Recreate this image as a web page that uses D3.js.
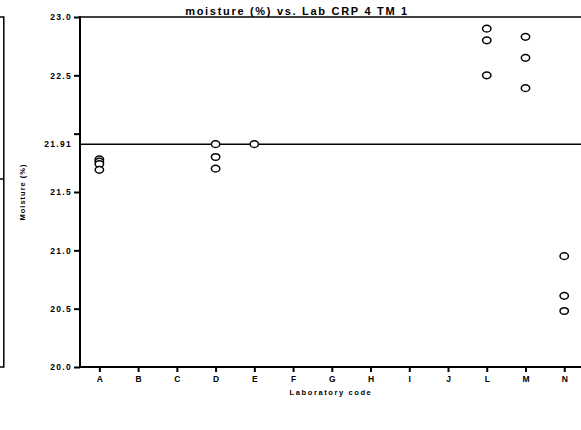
<!DOCTYPE html>
<html>
<head>
<meta charset="utf-8">
<script src="https://cdn.jsdelivr.net/npm/d3@7"></script>
<style>
  html, body { margin: 0; padding: 0; background: #fff; }
  svg { display: block; font-family: "Liberation Sans", Arial, sans-serif; }
</style>
</head>
<body>
<svg id="chart" width="581" height="430"></svg>
<script>
// Laboratory codes along the x axis
const labs = ["A", "B", "C", "D", "E", "F", "G", "H", "I", "J", "L", "M", "N"];
// Replicate moisture results (%) per laboratory
const labA = [21.78, 21.76, 21.74, 21.69];
const labD = [21.91, 21.80, 21.70];
const labE = [21.91];
const labL = [22.90, 22.80, 22.50];
const labM = [22.83, 22.65, 22.39];
const labN = [20.95, 20.61, 20.48];
// Assigned value drawn as a reference line
const assigned = 21.91;
// Y axis ticks
const yTicks = [20.0, 20.5, 21.0, 21.5, 21.91, 22.0, 22.5, 23.0];

const results = [
  { lab: "A", values: labA },
  { lab: "D", values: labD },
  { lab: "E", values: labE },
  { lab: "L", values: labL },
  { lab: "M", values: labM },
  { lab: "N", values: labN }
];

const svg = d3.select("#chart");
const plotLeft = 80, plotTop = 17, plotBottom = 367, plotRight = 583.6;

const x = d3.scalePoint().domain(labs).range([plotLeft, plotRight]).padding(0.5);
const y = d3.scaleLinear().domain([20, 23]).range([plotBottom, plotTop]);

// Title
svg.append("text")
  .attr("x", 297).attr("y", 15)
  .attr("text-anchor", "middle")
  .attr("font-size", 11).attr("font-weight", "bold")
  .attr("letter-spacing", 1.7)
  .text("moisture (%) vs. Lab CRP 4 TM 1");

// Edge of the neighbouring panel on the left
const edge = svg.append("g").attr("stroke", "#000").attr("stroke-width", 1.5).attr("fill", "none");
edge.append("path").attr("d", `M0,${plotTop}H3.8V${plotBottom}H0`);
edge.append("path").attr("d", `M0,179H3.8`);

// Frame top line
svg.append("line")
  .attr("x1", plotLeft).attr("x2", 581)
  .attr("y1", plotTop).attr("y2", plotTop)
  .attr("stroke", "#000").attr("stroke-width", 1.5);

// Y axis
const yAxis = svg.append("g")
  .attr("transform", `translate(${plotLeft},0)`)
  .call(d3.axisLeft(y)
    .tickValues(yTicks)
    .tickSize(6)
    .tickPadding(2)
    .tickFormat(d => d === 22 ? "" : (d === assigned ? "21.91" : d.toFixed(1))));
yAxis.select(".domain").remove();
yAxis.selectAll(".tick line").attr("stroke-width", 2)
  .filter(d => d === assigned).remove();
yAxis.selectAll(".tick text")
  .attr("font-size", 8.5).attr("font-weight", "bold")
  .attr("letter-spacing", 1.3).attr("fill", "#000")
  .attr("font-family", "Liberation Sans, Arial, sans-serif");
svg.append("line")
  .attr("x1", plotLeft).attr("x2", plotLeft)
  .attr("y1", plotTop - 1).attr("y2", plotBottom + 1)
  .attr("stroke", "#000").attr("stroke-width", 2);

// X axis
const xAxis = svg.append("g")
  .attr("transform", `translate(0,${plotBottom})`)
  .call(d3.axisBottom(x).tickSize(5).tickPadding(4));
xAxis.select(".domain").remove();
xAxis.selectAll(".tick line").attr("stroke-width", 2);
xAxis.selectAll(".tick text")
  .attr("font-size", 8.5).attr("font-weight", "bold").attr("fill", "#000")
  .attr("font-family", "Liberation Sans, Arial, sans-serif");
svg.append("line")
  .attr("x1", plotLeft - 1).attr("x2", 581)
  .attr("y1", plotBottom).attr("y2", plotBottom)
  .attr("stroke", "#000").attr("stroke-width", 2);

// Assigned value reference line
svg.append("line")
  .attr("x1", plotLeft).attr("x2", 581)
  .attr("y1", y(assigned)).attr("y2", y(assigned))
  .attr("stroke", "#000").attr("stroke-width", 1.5);

// Axis titles
svg.append("text")
  .attr("transform", `translate(25,${(plotTop + plotBottom) / 2}) rotate(-90)`)
  .attr("text-anchor", "middle")
  .attr("font-size", 7.5).attr("font-weight", "bold")
  .attr("letter-spacing", 1)
  .text("Moisture (%)");
svg.append("text")
  .attr("x", 331).attr("y", 395)
  .attr("text-anchor", "middle")
  .attr("font-size", 7.5).attr("font-weight", "bold")
  .attr("letter-spacing", 1.6)
  .text("Laboratory code");

// Result markers
const points = results.flatMap(r => r.values.map(v => ({ lab: r.lab, value: v })));
svg.append("g")
  .selectAll("ellipse")
  .data(points)
  .join("ellipse")
  .attr("cx", d => x(d.lab))
  .attr("cy", d => y(d.value))
  .attr("rx", 4.2).attr("ry", 3.3)
  .attr("fill", "#fff")
  .attr("stroke", "#000").attr("stroke-width", 1.5);
</script>
</body>
</html>
